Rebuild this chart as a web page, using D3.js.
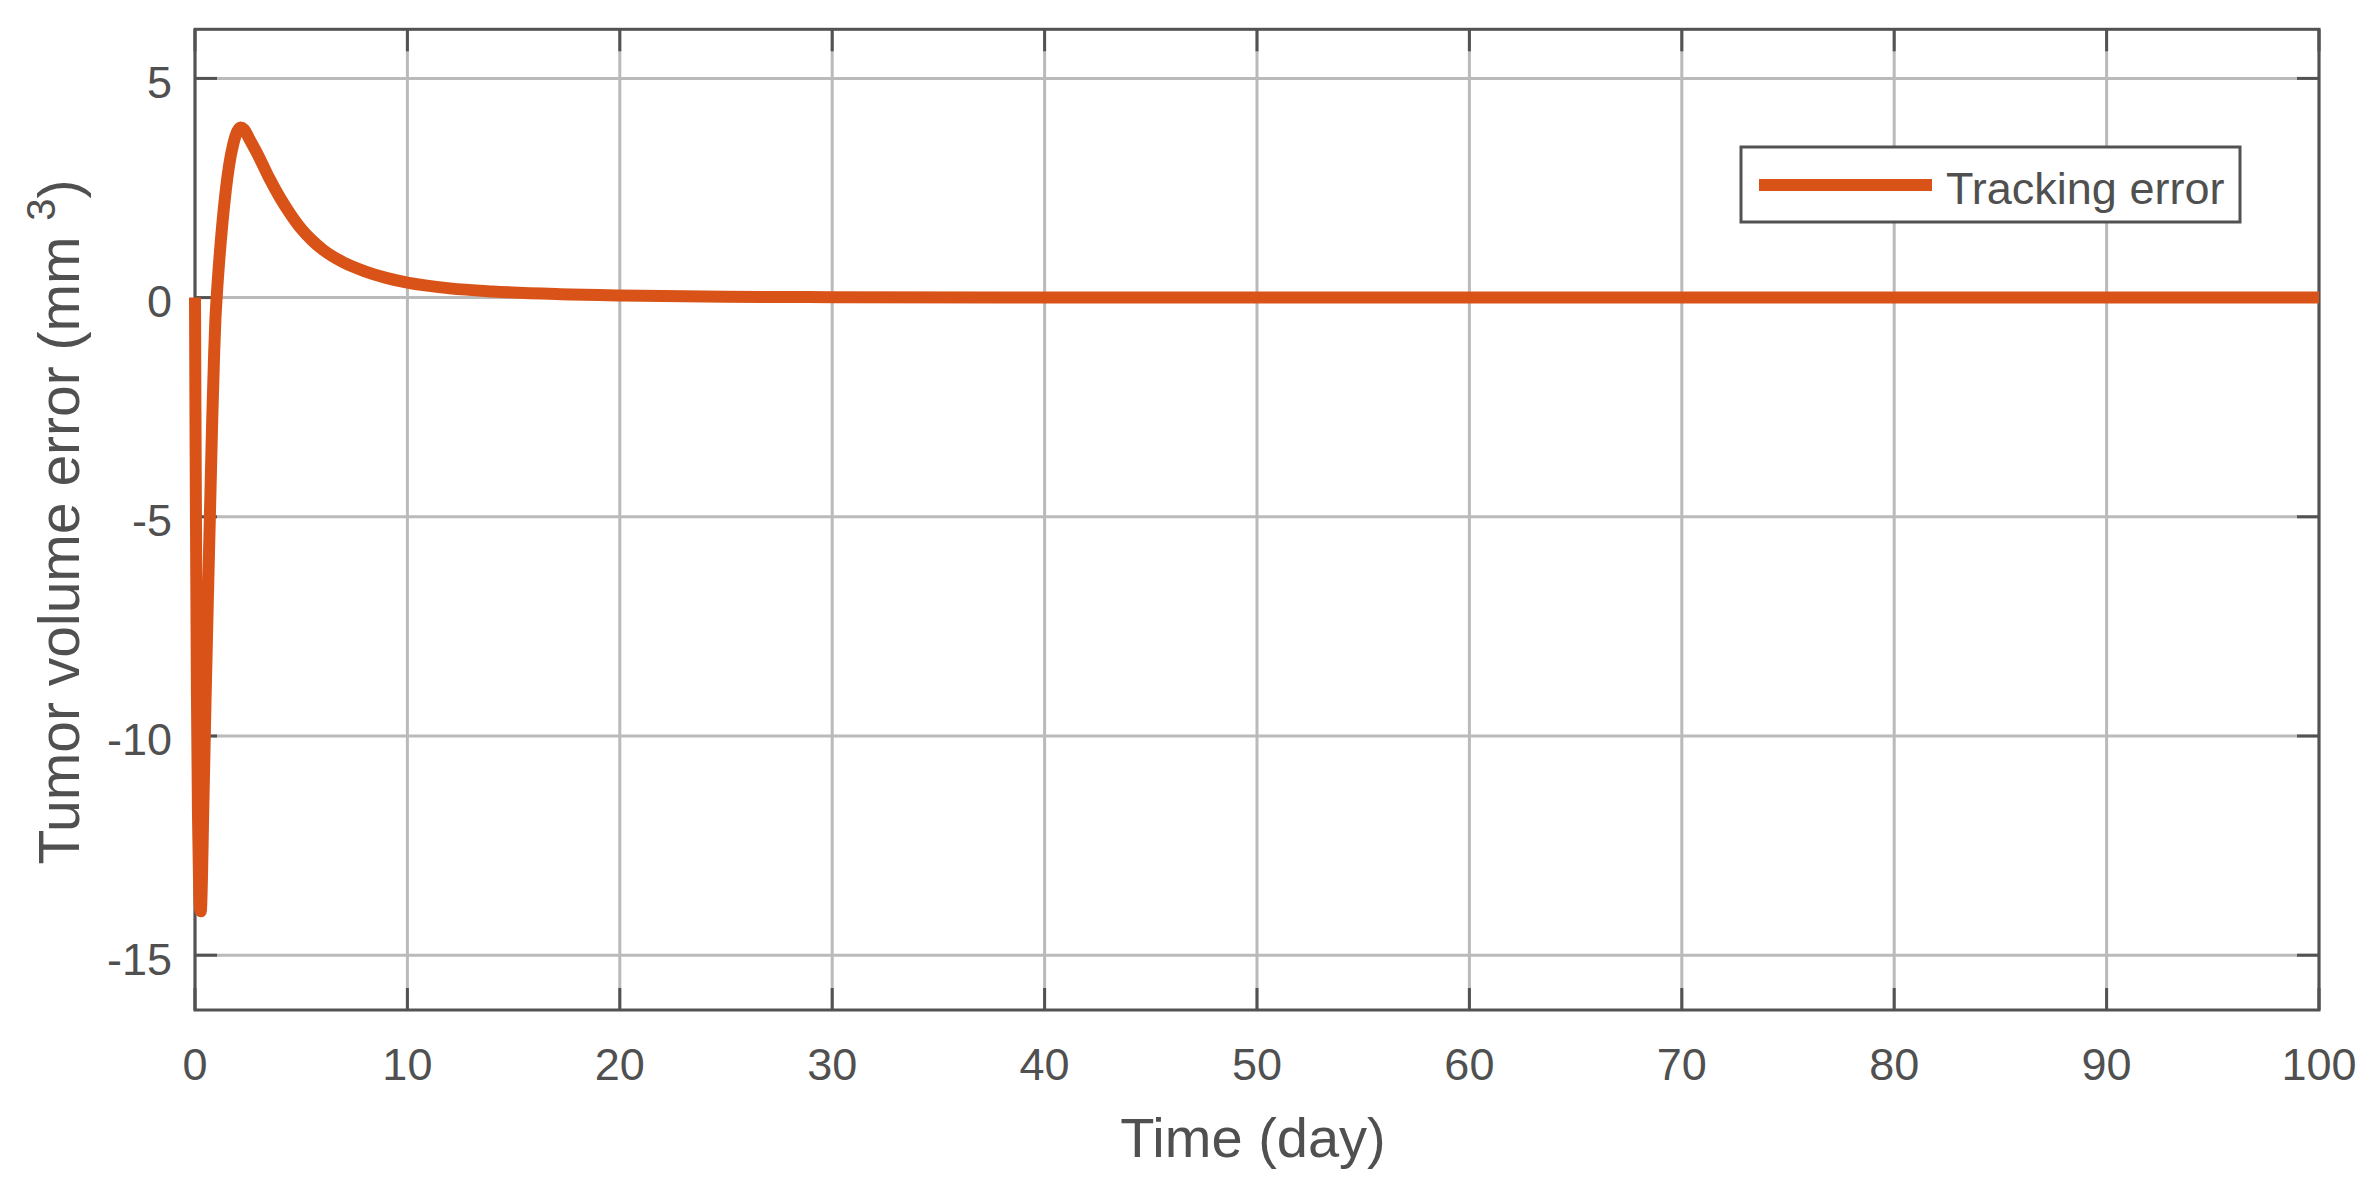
<!DOCTYPE html>
<html>
<head>
<meta charset="utf-8">
<script src="https://cdn.jsdelivr.net/npm/d3@7"></script>
<style>
  html, body { margin: 0; padding: 0; background: #fff; }
  text { font-family: "Liberation Sans", Arial, Helvetica, sans-serif; fill: #505050; }
</style>
</head>
<body>
<div id="chart"></div>
<script>
// tracking error samples (day, mm^3)
const timeDays = [
  0, 0.02, 0.05, 0.09, 0.14, 0.19, 0.24, 0.27, 0.33, 0.38, 0.5, 0.6, 0.7,
  0.81, 0.9, 0.96, 1.02, 1.15, 1.3, 1.45, 1.6, 1.8, 2.0, 2.15, 2.3, 2.6,
  3.0, 3.5, 4.0, 4.5, 5.0, 5.5, 6.0, 7.0, 8.0, 9.0, 10, 12, 14, 17, 20,
  25, 30, 40, 50, 60, 70, 80, 90, 100
];
const errorValues = [
  0, -2.5, -5.5, -9, -11.8, -13.3, -13.95, -14, -13.2, -11.9, -9.1, -7, -5,
  -2.8, -1.3, -0.5, 0, 0.9, 1.75, 2.45, 3.0, 3.5, 3.8, 3.88, 3.84, 3.58,
  3.22, 2.72, 2.28, 1.9, 1.57, 1.31, 1.1, 0.8, 0.6, 0.45, 0.34, 0.21, 0.14, 0.08, 0.05,
  0.02, 0.01, 0.003, 0, 0, 0, 0, 0, 0
];
const xTicks = [0, 10, 20, 30, 40, 50, 60, 70, 80, 90, 100];
const yTicks = [-15, -10, -5, 0, 5];
const seriesName = "Tracking error";

const W = 2375, H = 1179;
const box = { left: 195, right: 2319, top: 29.3, bottom: 1010 };
const axisColor = "#525252";
const gridColor = "#bababa";
const lineColor = "#D95319";

const svg = d3.select("#chart")
  .append("svg")
  .attr("width", W)
  .attr("height", H);

svg.append("rect").attr("width", W).attr("height", H).attr("fill", "#fff");

const x = d3.scaleLinear().domain([0, 100]).range([box.left, box.right]);
const y = d3.scaleLinear().domain([-16.25, 6.12]).range([box.bottom, box.top]);

// grid
const grid = svg.append("g");
grid.selectAll(".gx")
  .data(xTicks)
  .enter()
  .append("line")
  .attr("x1", d => x(d)).attr("x2", d => x(d))
  .attr("y1", box.top).attr("y2", box.bottom)
  .attr("stroke", gridColor).attr("stroke-width", 3);
grid.selectAll(".gy")
  .data(yTicks)
  .enter()
  .append("line")
  .attr("x1", box.left).attr("x2", box.right)
  .attr("y1", d => y(d)).attr("y2", d => y(d))
  .attr("stroke", gridColor).attr("stroke-width", 3);

// inward ticks on all four sides
const tickLen = 22;
const ticks = svg.append("g").attr("stroke", axisColor).attr("stroke-width", 3);
xTicks.forEach(d => {
  ticks.append("line").attr("x1", x(d)).attr("x2", x(d))
    .attr("y1", box.bottom).attr("y2", box.bottom - tickLen);
  ticks.append("line").attr("x1", x(d)).attr("x2", x(d))
    .attr("y1", box.top).attr("y2", box.top + tickLen);
});
yTicks.forEach(d => {
  ticks.append("line").attr("x1", box.left).attr("x2", box.left + tickLen)
    .attr("y1", y(d)).attr("y2", y(d));
  ticks.append("line").attr("x1", box.right).attr("x2", box.right - tickLen)
    .attr("y1", y(d)).attr("y2", y(d));
});

// axes box
svg.append("rect")
  .attr("x", box.left).attr("y", box.top)
  .attr("width", box.right - box.left)
  .attr("height", box.bottom - box.top)
  .attr("fill", "none")
  .attr("stroke", axisColor)
  .attr("stroke-width", 3);

// tick labels
svg.append("g").selectAll("text")
  .data(xTicks)
  .enter()
  .append("text")
  .attr("x", d => x(d))
  .attr("y", 1079.5)
  .attr("text-anchor", "middle")
  .style("font-size", "45px")
  .text(d => d);

svg.append("g").selectAll("text")
  .data(yTicks)
  .enter()
  .append("text")
  .attr("x", 172)
  .attr("y", d => y(d) + 19.4)
  .attr("text-anchor", "end")
  .style("font-size", "45px")
  .text(d => d);

// axis titles
svg.append("text")
  .attr("x", 1253)
  .attr("y", 1156.7)
  .attr("text-anchor", "middle")
  .style("font-size", "56px")
  .text("Time (day)");

const yTitle = svg.append("text")
  .attr("transform", "translate(79, 522) rotate(-90)")
  .attr("text-anchor", "middle")
  .style("font-size", "57px");
yTitle.append("tspan").text("Tumor volume error (mm ");
yTitle.append("tspan").attr("dy", -24).style("font-size", "40px").text("3");
yTitle.append("tspan").attr("dy", 24).text(")");

// data line
const points = timeDays.map((t, i) => ({ t: t, v: errorValues[i] }));
const line = d3.line()
  .x(d => x(d.t))
  .y(d => y(d.v))
  .curve(d3.curveMonotoneX);

svg.append("path")
  .datum(points)
  .attr("d", line)
  .attr("fill", "none")
  .attr("stroke", lineColor)
  .attr("stroke-width", 12)
  .attr("stroke-linejoin", "round")
  .attr("stroke-linecap", "butt");

// legend
const legend = svg.append("g");
legend.append("rect")
  .attr("x", 1741).attr("y", 147)
  .attr("width", 499).attr("height", 75)
  .attr("fill", "#fff")
  .attr("stroke", axisColor)
  .attr("stroke-width", 3);
legend.append("line")
  .attr("x1", 1759).attr("x2", 1932)
  .attr("y1", 185).attr("y2", 185)
  .attr("stroke", lineColor)
  .attr("stroke-width", 12);
legend.append("text")
  .attr("x", 1946).attr("y", 204)
  .style("font-size", "45px")
  .text(seriesName);
</script>
</body>
</html>
